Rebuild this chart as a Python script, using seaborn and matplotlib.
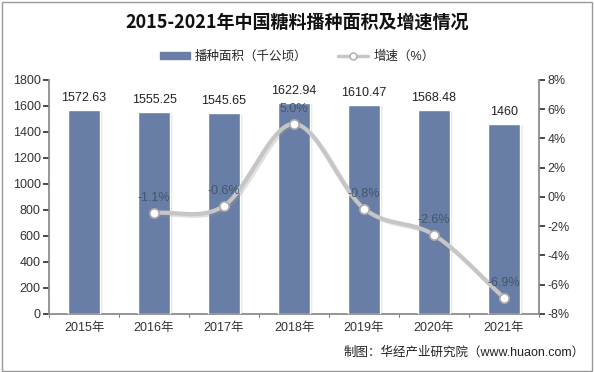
import numpy as np
import pandas as pd
import matplotlib
matplotlib.use("Agg")
import matplotlib.pyplot as plt
import seaborn as sns
from matplotlib.lines import Line2D
from matplotlib.patches import Patch, Rectangle

# Data
years = ["2015年", "2016年", "2017年", "2018年", "2019年", "2020年", "2021年"]
area = [1572.63, 1555.25, 1545.65, 1622.94, 1610.47, 1568.48, 1460]
area_labels = ["1572.63", "1555.25", "1545.65", "1622.94", "1610.47", "1568.48", "1460"]
growth_years = ["2016年", "2017年", "2018年", "2019年", "2020年", "2021年"]
growth = [-1.1, -0.6, 5.0, -0.8, -2.6, -6.9]

sns.set_theme(style="white")
plt.rcParams["font.family"] = ["Liberation Sans", "Noto Sans CJK SC"]
plt.rcParams["axes.unicode_minus"] = False

bar_color = "#687EA6"
line_color = "#C6C6C6"
text_color = "#222222"

fig = plt.figure(figsize=(5.94, 3.72), dpi=100)
ax = fig.add_axes([0.0825, 0.156, 0.825, 0.629])

df = pd.DataFrame({"year": years, "area": area})
sns.barplot(data=df, x="year", y="area", color=bar_color, width=0.45,
            saturation=1, ax=ax, zorder=3)

# soft drop shadow to the right of each bar
for p in list(ax.patches):
    for k, a in enumerate([0.22, 0.14, 0.07]):
        sh = Rectangle((p.get_x() + 0.015 * (k + 1), 0), p.get_width(),
                       p.get_height() - 10, color="#888888", alpha=a,
                       zorder=2 - k * 0.1, lw=0)
        ax.add_patch(sh)

for i, (v, lab) in enumerate(zip(area, area_labels)):
    ax.text(i, v + 45, lab, ha="center", va="bottom", fontsize=9,
            color=text_color)

ax.set_xlim(-0.5, 6.5)
ax.set_ylim(0, 1800)
ax.set_yticks(range(0, 1801, 200))
ax.set_xlabel("")
ax.set_ylabel("")
ax.tick_params(axis="y", labelsize=9, length=4, direction="out", left=True,
               colors="#333333", pad=2)
ax.tick_params(axis="x", labelsize=9, length=0, pad=6, colors="#333333")
ax.set_xticks(range(7))
ax.set_xticklabels(years)
for b in np.arange(-0.5, 7, 1):
    ax.plot([b, b], [0, -25], color="#888888", lw=0.8, clip_on=False)
for s in ["top", "right"]:
    ax.spines[s].set_visible(False)
ax.spines["left"].set_color("#888888")
ax.spines["bottom"].set_color("#888888")

ax2 = ax.twinx()
ax2.set_ylim(-8, 8)
ax2.set_yticks(range(-8, 9, 2))
ax2.set_yticklabels([f"{t}%" for t in range(-8, 9, 2)])
ax2.tick_params(axis="y", labelsize=9, length=4, direction="out", right=True,
                colors="#333333", pad=2)
for s in ["top", "left", "bottom"]:
    ax2.spines[s].set_visible(False)
ax2.spines["right"].set_color("#888888")

# smoothed line (Catmull-Rom) through the growth points
gx = np.array([years.index(y) for y in growth_years], dtype=float)
gy = np.array(growth)
px = np.concatenate([[2 * gx[0] - gx[1]], gx, [2 * gx[-1] - gx[-2]]])
py = np.concatenate([[2 * gy[0] - gy[1]], gy, [2 * gy[-1] - gy[-2]]])
sx, sy = [], []
t = np.linspace(0, 1, 30)
for k in range(1, len(px) - 2):
    for arr, out in ((px, sx), (py, sy)):
        p0, p1, p2, p3 = arr[k - 1], arr[k], arr[k + 1], arr[k + 2]
        out.extend(0.5 * ((2 * p1) + (-p0 + p2) * t
                          + (2 * p0 - 5 * p1 + 4 * p2 - p3) * t ** 2
                          + (-p0 + 3 * p1 - 3 * p2 + p3) * t ** 3))
ax2.plot(np.array(sx) + 0.03, np.array(sy) - 0.12, color="#999999", lw=3,
         alpha=0.3, zorder=3, solid_capstyle="round")
ax2.plot(sx, sy, color=line_color, lw=3, zorder=4, solid_capstyle="round")
gdf = pd.DataFrame({"x": gx, "g": gy})
sns.scatterplot(data=gdf, x="x", y="g", ax=ax2, s=45, color="white",
                edgecolor="#AAAAAA", linewidth=1.2, zorder=5)
ax2.set_xlabel("")
ax2.set_ylabel("")
for x, g in zip(gx, gy):
    ax2.text(x, g + 0.6, f"{g:.1f}%", ha="center", va="bottom", fontsize=9,
             color="#44546A", zorder=6)

# title and legend
fig.text(0.5, 0.94, "2015-2021年中国糖料播种面积及增速情况", ha="center",
         va="center", fontsize=13, fontweight="bold", color="#111111",
         family=["Noto Sans CJK SC"])
handles = [Patch(color=bar_color),
           Line2D([0], [0], color=line_color, lw=2.5, marker="o",
                  markerfacecolor="white", markeredgecolor="#AAAAAA", markersize=5)]
fig.legend(handles, ["播种面积（千公顷）", "增速（%）"], loc="center",
           bbox_to_anchor=(0.5, 0.847), ncol=2, frameon=False, fontsize=9,
           handlelength=2.4, handleheight=0.5, columnspacing=2.5, handletextpad=0.4)

fig.text(0.985, 0.052, "制图：华经产业研究院（www.huaon.com）", ha="right",
         va="center", fontsize=9, color="#222222")

# outer frame
fig.patches.append(Rectangle((0.003, 0.004), 0.994, 0.99, transform=fig.transFigure,
                             fill=False, edgecolor="#999999", lw=1))

fig.savefig("out.png", dpi=100)
